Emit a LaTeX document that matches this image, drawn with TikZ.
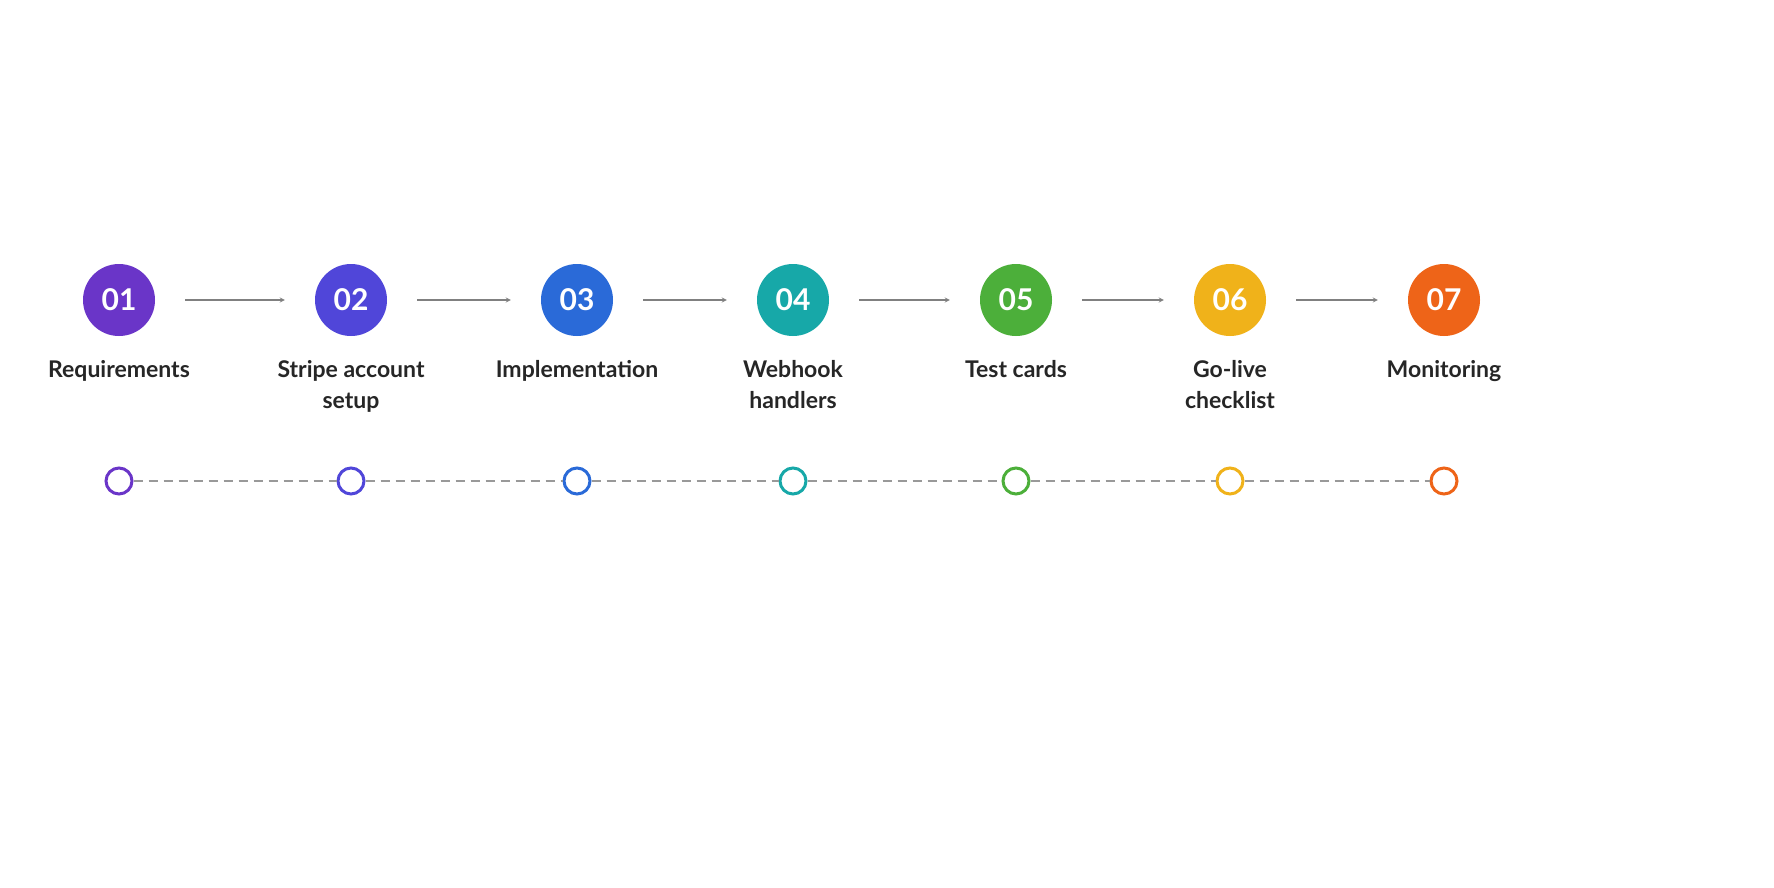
\documentclass[tikz,border=0pt]{standalone}
\usepackage{fontspec}
\setmainfont{Lato}
\begin{document}
\begin{tikzpicture}[x=1pt,y=-1pt,
  num/.style={circle,minimum size=72pt,inner sep=0pt,text=white,font=\fontsize{30}{30}\selectfont\bfseries},
  lab/.style={align=center,font=\fontsize{23}{31}\selectfont\bfseries,text=black!85,anchor=north},
  ring/.style={circle,minimum size=26pt,inner sep=0pt,line width=3pt,fill=white},
  arr/.style={-stealth,gray,line width=1.2pt},
  dashline/.style={gray!80,line width=1.5pt,dash pattern=on 9pt off 6pt}]
\useasboundingbox[fill=white] (0,0) rectangle (1774,887);
\definecolor{c1}{HTML}{6A35C8}\definecolor{c2}{HTML}{5046D9}\definecolor{c3}{HTML}{2A6AD8}
\definecolor{c4}{HTML}{17A8A8}\definecolor{c5}{HTML}{4CAF3A}\definecolor{c6}{HTML}{F0B21A}\definecolor{c7}{HTML}{EE6418}
\foreach \i/\x/\t in {1/119/Requirements,2/351/Stripe account\\setup,3/577/Implementation,4/793/Webhook\\handlers,5/1016/Test cards,6/1230/Go-live\\checklist,7/1444/Monitoring}{
  \node[num,fill=c\i] (n\i) at (\x,300) {0\i};
  \node[lab] (l\i) at (\x,357) {\t};
  \node[ring,draw=c\i] (r\i) at (\x,481) {};
}
\foreach \a/\b in {1/2,2/3,3/4,4/5,5/6,6/7}{
  \draw[arr] ([xshift=30pt]n\a.east) -- ([xshift=-30pt]n\b.west);
  \draw[dashline] (r\a) -- (r\b);
}
\end{tikzpicture}
\end{document}
